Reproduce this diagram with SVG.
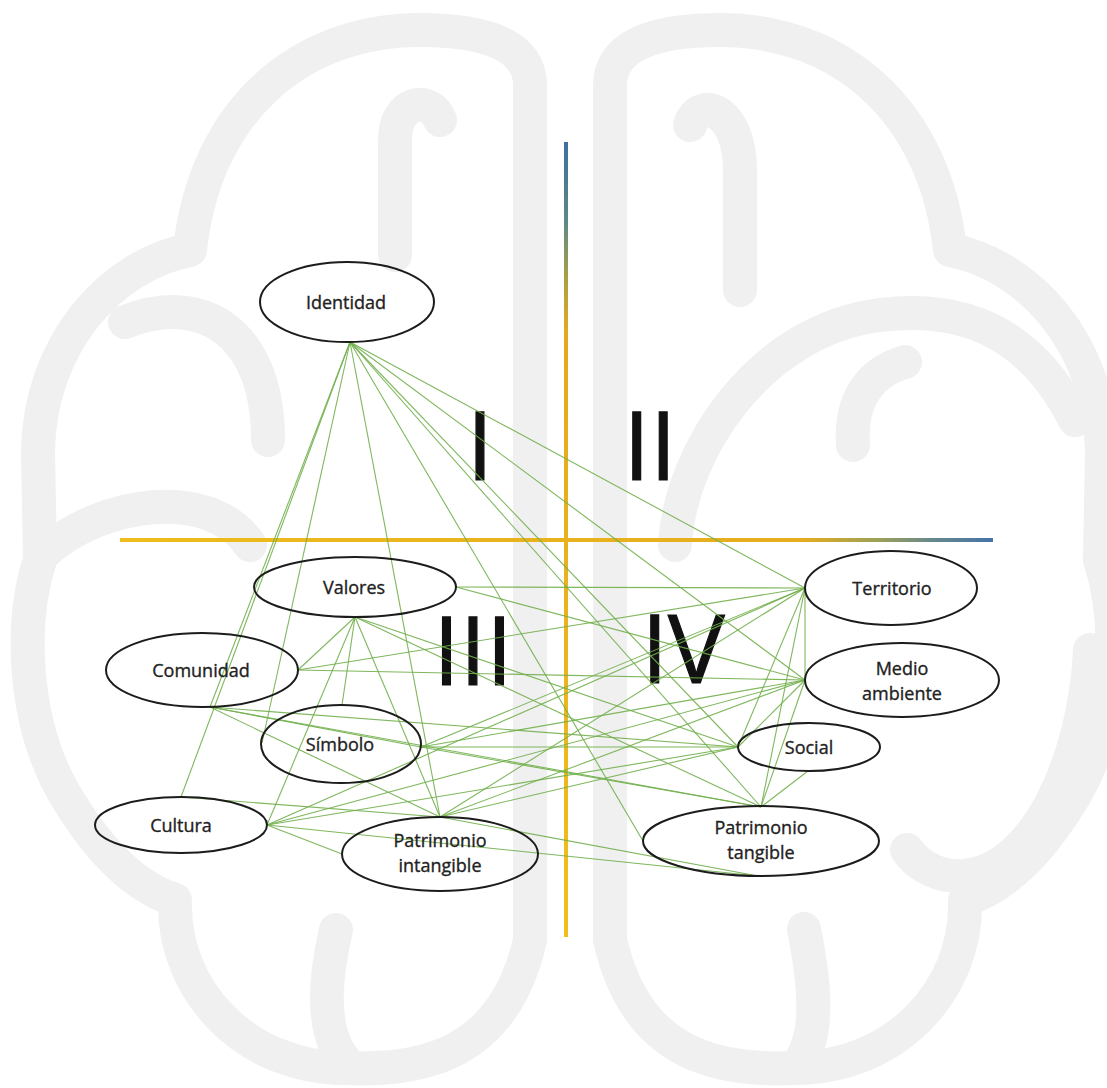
<svg xmlns="http://www.w3.org/2000/svg" width="1107" height="1088" viewBox="0 0 1107 1088">
  <defs>
    <linearGradient id="axisV" gradientUnits="userSpaceOnUse" x1="0" y1="142" x2="0" y2="937">
      <stop offset="0" stop-color="#3f6fa0"/>
      <stop offset="0.1" stop-color="#5a8a86"/>
      <stop offset="0.17" stop-color="#a8a044"/>
      <stop offset="0.24" stop-color="#e6a81e"/>
      <stop offset="1" stop-color="#f2be1c"/>
    </linearGradient>
    <linearGradient id="axisH" gradientUnits="userSpaceOnUse" x1="120" y1="0" x2="993" y2="0">
      <stop offset="0" stop-color="#eebc1c"/>
      <stop offset="0.78" stop-color="#e6ac1e"/>
      <stop offset="0.87" stop-color="#9aa058"/>
      <stop offset="0.93" stop-color="#67888c"/>
      <stop offset="1" stop-color="#4674a6"/>
    </linearGradient>
    <path id="hemisphere-outline" d="M 530 940 L 530 85 C 530 45 485 30 420 30 C 300 30 205 110 190 250 C 110 265 40 345 38 450 L 40 560 C 20 620 22 720 64 793 C 95 845 130 885 175 900 C 172 990 245 1068 345 1068 C 430 1072 505 1050 530 940"/>
  </defs>
  <style>
    .brain { fill: none; stroke: #f0f0f0; stroke-width: 34; stroke-linecap: round; stroke-linejoin: round; }
    .node ellipse { fill: none; stroke: #1c1c1c; stroke-width: 2; }
    .node text { font-family: "Open Sans", "Liberation Sans", sans-serif; font-size: 18px; fill: #222; stroke: #222; stroke-width: 0.35; text-anchor: middle; }
    .link { stroke: #72b04c; stroke-width: 1.1; opacity: 0.9; }
    .quad { font-family: "Open Sans", "Liberation Sans", sans-serif; font-size: 95px; fill: #111; stroke: #111; stroke-width: 1.2; text-anchor: middle; }
  </style>
  <rect width="1107" height="1088" fill="#ffffff"/>

  <!-- brain watermark -->
  <g id="brain" class="brain">
    <g id="brain-left">
      <use href="#hemisphere-outline"/>
      <path d="M 125 322 C 200 292 268 330 268 440"/>
      <path d="M 45 552 C 100 502 210 485 250 545"/>
      <path d="M 336 930 C 322 990 322 1040 350 1066"/>
      <path d="M 395 255 L 395 140 C 395 100 430 95 440 120"/>
    </g>
    <g id="brain-right">
      <use href="#hemisphere-outline" transform="translate(1140,0) scale(-1,1)"/>
      <path d="M 675 545 C 680 450 760 330 880 315 C 960 305 1030 330 1075 420"/>
      <path d="M 853 445 C 850 400 870 372 905 362"/>
      <path d="M 1090 650 C 1085 760 1035 870 965 876 C 940 878 918 866 907 850"/>
      <path d="M 804 929 C 816 990 820 1040 795 1068"/>
      <path d="M 740 290 L 740 170 C 740 110 700 95 690 125"/>
    </g>
  </g>

  <!-- quadrant axes -->
  <g id="axes">
    <line x1="566" y1="142" x2="566" y2="937" stroke="url(#axisV)" stroke-width="4"/>
    <line x1="120" y1="540" x2="993" y2="540" stroke="url(#axisH)" stroke-width="4"/>
  </g>

  <!-- quadrant numerals -->
  <g id="numerals">
    <text class="quad" x="480" y="480">I</text>
    <text class="quad" x="650" y="480">II</text>
    <text class="quad" x="473" y="685">III</text>
    <text class="quad" x="683" y="683">IV</text>
  </g>

  <!-- connectors -->
  <g id="connectors">
    <!-- Identidad -->
    <line class="link" x1="350" y1="342" x2="181" y2="797"/>
    <line class="link" x1="350" y1="342" x2="210" y2="707"/>
    <line class="link" x1="350" y1="342" x2="262" y2="743"/>
    <line class="link" x1="350" y1="342" x2="440" y2="817"/>
    <line class="link" x1="350" y1="342" x2="643" y2="841"/>
    <line class="link" x1="350" y1="342" x2="761" y2="807"/>
    <line class="link" x1="350" y1="342" x2="738" y2="747"/>
    <line class="link" x1="350" y1="342" x2="805" y2="680"/>
    <line class="link" x1="350" y1="342" x2="805" y2="588"/>
    <!-- Valores -->
    <line class="link" x1="456" y1="587" x2="805" y2="588"/>
    <line class="link" x1="456" y1="587" x2="805" y2="680"/>
    <line class="link" x1="355" y1="617" x2="342" y2="705"/>
    <line class="link" x1="355" y1="617" x2="298" y2="670"/>
    <line class="link" x1="355" y1="617" x2="267" y2="825"/>
    <line class="link" x1="355" y1="617" x2="440" y2="817"/>
    <line class="link" x1="355" y1="617" x2="738" y2="747"/>
    <line class="link" x1="355" y1="617" x2="761" y2="807"/>
    <!-- Comunidad -->
    <line class="link" x1="298" y1="670" x2="805" y2="588"/>
    <line class="link" x1="298" y1="670" x2="805" y2="680"/>
    <line class="link" x1="210" y1="707" x2="738" y2="747"/>
    <line class="link" x1="210" y1="707" x2="440" y2="817"/>
    <line class="link" x1="210" y1="707" x2="421" y2="747"/>
    <line class="link" x1="210" y1="707" x2="761" y2="807"/>
    <!-- Símbolo -->
    <line class="link" x1="421" y1="747" x2="805" y2="588"/>
    <line class="link" x1="421" y1="747" x2="805" y2="680"/>
    <line class="link" x1="421" y1="747" x2="738" y2="747"/>
    <line class="link" x1="421" y1="747" x2="761" y2="807"/>
    <!-- Cultura -->
    <line class="link" x1="267" y1="825" x2="805" y2="588"/>
    <line class="link" x1="267" y1="825" x2="805" y2="680"/>
    <line class="link" x1="267" y1="825" x2="738" y2="747"/>
    <line class="link" x1="267" y1="825" x2="758" y2="876"/>
    <line class="link" x1="267" y1="825" x2="342" y2="854"/>
    <line class="link" x1="181" y1="797" x2="440" y2="817"/>
    <!-- Patrimonio intangible -->
    <line class="link" x1="440" y1="817" x2="805" y2="588"/>
    <line class="link" x1="440" y1="817" x2="805" y2="680"/>
    <line class="link" x1="440" y1="817" x2="738" y2="747"/>
    <line class="link" x1="440" y1="817" x2="758" y2="876"/>
    <!-- right-hand group -->
    <line class="link" x1="805" y1="588" x2="805" y2="680"/>
    <line class="link" x1="805" y1="588" x2="738" y2="747"/>
    <line class="link" x1="805" y1="588" x2="761" y2="807"/>
    <line class="link" x1="805" y1="680" x2="738" y2="747"/>
    <line class="link" x1="805" y1="680" x2="761" y2="807"/>
    <line class="link" x1="808" y1="771" x2="761" y2="807"/>
  </g>

  <!-- nodes -->
  <g id="node-identidad" class="node">
    <ellipse cx="347" cy="302" rx="87" ry="40"/>
    <text x="346" y="309">Identidad</text>
  </g>
  <g id="node-valores" class="node">
    <ellipse cx="355" cy="587" rx="101" ry="30"/>
    <text x="354" y="594">Valores</text>
  </g>
  <g id="node-comunidad" class="node">
    <ellipse cx="202" cy="670" rx="96" ry="37"/>
    <text x="201" y="677">Comunidad</text>
  </g>
  <g id="node-simbolo" class="node">
    <ellipse cx="341" cy="744" rx="80" ry="39"/>
    <text x="340" y="751">Símbolo</text>
  </g>
  <g id="node-cultura" class="node">
    <ellipse cx="181" cy="825" rx="86" ry="28"/>
    <text x="181" y="832">Cultura</text>
  </g>
  <g id="node-patrimonio-intangible" class="node">
    <ellipse cx="440" cy="854" rx="98" ry="37"/>
    <text x="440" y="847">Patrimonio</text>
    <text x="440" y="872">intangible</text>
  </g>
  <g id="node-territorio" class="node">
    <ellipse cx="891" cy="588" rx="86" ry="37"/>
    <text x="892" y="595">Territorio</text>
  </g>
  <g id="node-medio-ambiente" class="node">
    <ellipse cx="902" cy="680" rx="97" ry="37"/>
    <text x="902" y="675">Medio</text>
    <text x="902" y="700">ambiente</text>
  </g>
  <g id="node-social" class="node">
    <ellipse cx="809" cy="747" rx="71" ry="24"/>
    <text x="809" y="754">Social</text>
  </g>
  <g id="node-patrimonio-tangible" class="node">
    <ellipse cx="761" cy="841" rx="118" ry="35"/>
    <text x="761" y="834">Patrimonio</text>
    <text x="761" y="859">tangible</text>
  </g>
</svg>
